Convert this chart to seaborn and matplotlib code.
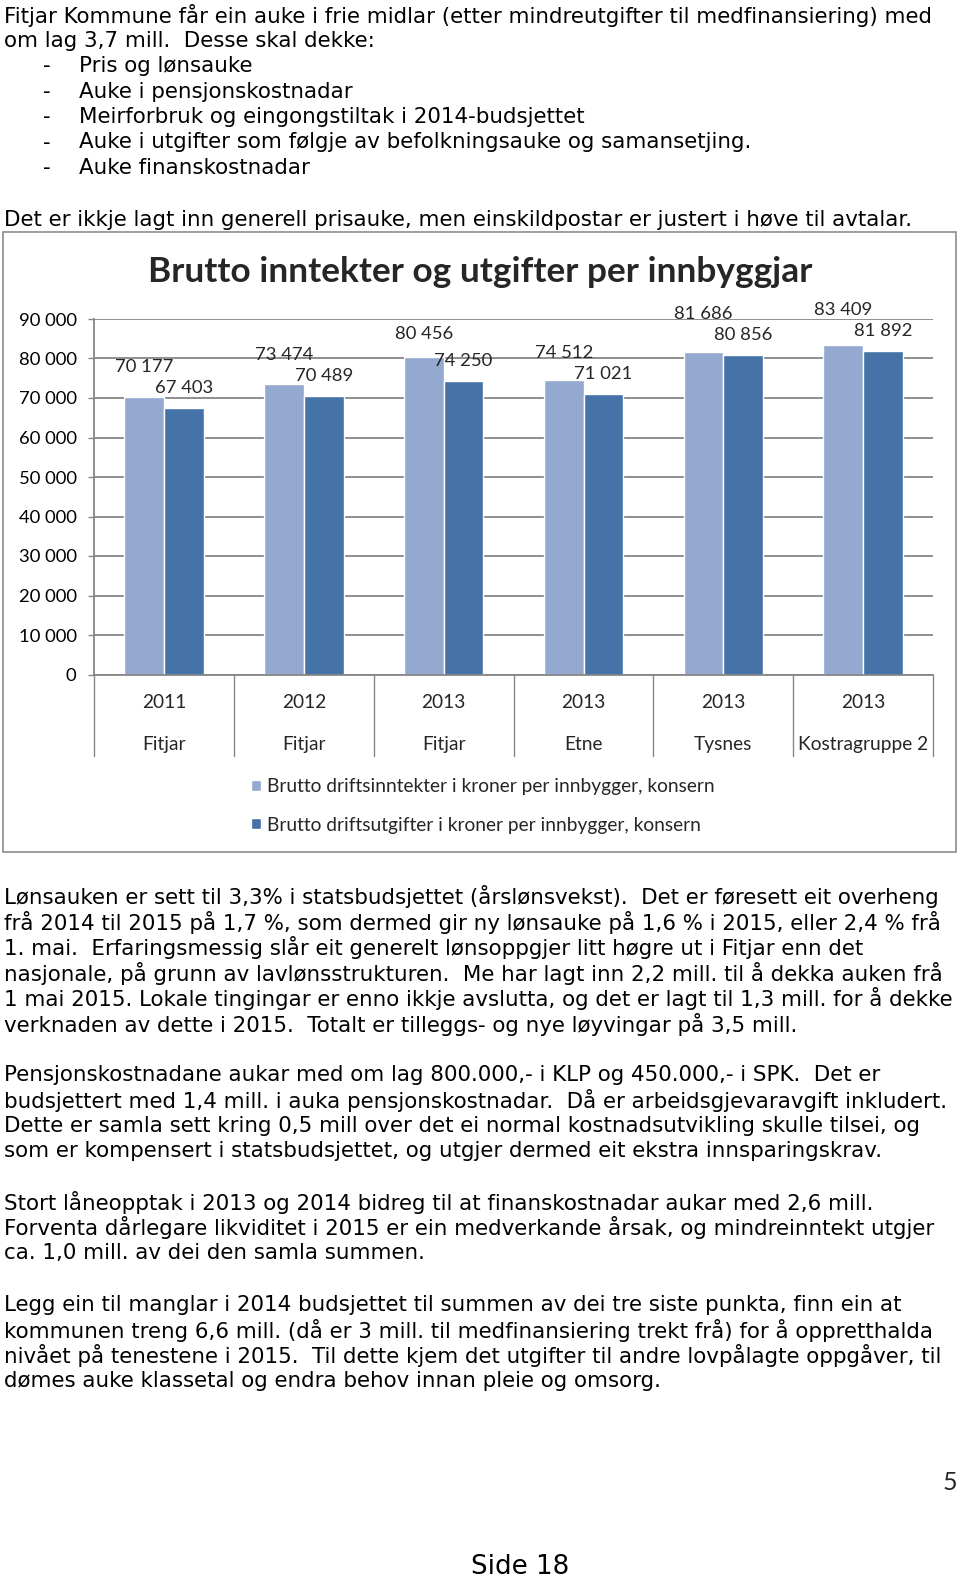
import matplotlib
matplotlib.use("Agg")
import matplotlib.pyplot as plt
import seaborn as sns
import pandas as pd
from matplotlib.patches import Rectangle
from matplotlib.lines import Line2D

# ---------------- data ----------------
years = ["2011", "2012", "2013", "2013", "2013", "2013"]
places = ["Fitjar", "Fitjar", "Fitjar", "Etne", "Tysnes", "Kostragruppe 2"]
series_names = ["Brutto driftsinntekter i kroner per innbygger, konsern",
                "Brutto driftsutgifter i kroner per innbygger, konsern"]
inntekter = [70177, 73474, 80456, 74512, 81686, 83409]
utgifter = [67403, 70489, 74250, 71021, 80856, 81892]
y_ticks = [0, 10000, 20000, 30000, 40000, 50000, 60000, 70000, 80000, 90000]
chart_title = "Brutto inntekter og utgifter per innbyggjar"

intro_lines = [
    "Fitjar Kommune får ein auke i frie midlar (etter mindreutgifter til medfinansiering) med",
    "om lag 3,7 mill.  Desse skal dekke:",
]
bullet_items = [
    "Pris og lønsauke",
    "Auke i pensjonskostnadar",
    "Meirforbruk og eingongstiltak i 2014-budsjettet",
    "Auke i utgifter som følgje av befolkningsauke og samansetjing.",
    "Auke finanskostnadar",
]
note_line = "Det er ikkje lagt inn generell prisauke, men einskildpostar er justert i høve til avtalar."
para_lon = [
    "Lønsauken er sett til 3,3% i statsbudsjettet (årslønsvekst).  Det er føresett eit overheng",
    "frå 2014 til 2015 på 1,7 %, som dermed gir ny lønsauke på 1,6 % i 2015, eller 2,4 % frå",
    "1. mai.  Erfaringsmessig slår eit generelt lønsoppgjer litt høgre ut i Fitjar enn det",
    "nasjonale, på grunn av lavlønsstrukturen.  Me har lagt inn 2,2 mill. til å dekka auken frå",
    "1 mai 2015. Lokale tingingar er enno ikkje avslutta, og det er lagt til 1,3 mill. for å dekke",
    "verknaden av dette i 2015.  Totalt er tilleggs- og nye løyvingar på 3,5 mill.",
]
para_pensjon = [
    "Pensjonskostnadane aukar med om lag 800.000,- i KLP og 450.000,- i SPK.  Det er",
    "budsjettert med 1,4 mill. i auka pensjonskostnadar.  Då er arbeidsgjevaravgift inkludert.",
    "Dette er samla sett kring 0,5 mill over det ei normal kostnadsutvikling skulle tilsei, og",
    "som er kompensert i statsbudsjettet, og utgjer dermed eit ekstra innsparingskrav.",
]
para_lan = [
    "Stort låneopptak i 2013 og 2014 bidreg til at finanskostnadar aukar med 2,6 mill.",
    "Forventa dårlegare likviditet i 2015 er ein medverkande årsak, og mindreinntekt utgjer",
    "ca. 1,0 mill. av dei den samla summen.",
]
para_sum = [
    "Legg ein til manglar i 2014 budsjettet til summen av dei tre siste punkta, finn ein at",
    "kommunen treng 6,6 mill. (då er 3 mill. til medfinansiering trekt frå) for å oppretthalda",
    "nivået på tenestene i 2015.  Til dette kjem det utgifter til andre lovpålagte oppgåver, til",
    "dømes auke klassetal og endra behov innan pleie og omsorg.",
]
page_number = "5"
footer = "Side 18"

# ---------------- style ----------------
W, H = 960, 1577
LIGHT = "#93A9CF"
DARK = "#4573A7"
GRID = "#868686"
BODY_FONT = "DejaVu Sans"
CHART_FONT = "Lato"
BODY_SIZE = 15.4
CHART_SIZE = 13.8
NUM_SIZE = 13.3
LINE_H = 25.4

sns.set_style("white")
plt.rcParams["font.family"] = [CHART_FONT, "DejaVu Sans"]

fig = plt.figure(figsize=(W / 100, H / 100), dpi=100)


def fx(x):
    return x / W


def fy(y):
    return 1 - y / H


def body(x, y, s, **kw):
    fig.text(fx(x), fy(y), s, family=BODY_FONT, fontsize=kw.pop("fontsize", BODY_SIZE),
             va="center", ha=kw.pop("ha", "left"), color="black", **kw)


# ---------------- page text ----------------
y = 15.5
for ln in intro_lines:
    body(4, y, ln)
    y += LINE_H
for item in bullet_items:
    body(43, y, "-")
    body(79, y, item)
    y += LINE_H
body(4, 219.5, note_line)

for start, para in [(897, para_lon), (1075, para_pensjon), (1202.5, para_lan), (1305, para_sum)]:
    for i, ln in enumerate(para):
        body(4, start + i * LINE_H, ln)

fig.text(fx(957), fy(1482), page_number, family=CHART_FONT, fontsize=18, ha="right", va="center")
body(520, 1567, footer, fontsize=18.8, ha="center")

# ---------------- chart frame ----------------
fig.patches.append(Rectangle((fx(3), fy(852)), fx(956) - fx(3), fy(232) - fy(852),
                             transform=fig.transFigure, fill=False, edgecolor="#8C8C8C",
                             lw=1.2, zorder=0))
fig.text(fx(480), fy(272), chart_title, family=CHART_FONT, fontsize=25.4, fontweight="bold",
         ha="center", va="center")

# ---------------- chart ----------------
left, right, top, bottom = 94.3, 933, 319, 674.5
ax = fig.add_axes([fx(left), fy(bottom), (right - left) / W, (bottom - top) / H])

keys = [f"{a} {b}" for a, b in zip(years, places)]
df = pd.DataFrame({
    "kategori": keys * 2,
    "serie": [series_names[0]] * len(keys) + [series_names[1]] * len(keys),
    "verdi": inntekter + utgifter,
})
sns.barplot(data=df, x="kategori", y="verdi", hue="serie", palette=[LIGHT, DARK],
            width=0.568, saturation=1, errorbar=None, ax=ax, zorder=2)

ax.set_xlim(-0.5, len(keys) - 0.5)
ax.set_ylim(0, 90000)
ax.set_yticks(y_ticks)
ax.set_yticklabels([f"{v:,}".replace(",", " ") for v in y_ticks])
ax.set_xticks([])
ax.set_xlabel("")
ax.set_ylabel("")
ax.yaxis.grid(True, color=GRID, lw=1.3)
ax.xaxis.grid(False)
ax.set_axisbelow(True)
for s in ["top", "right"]:
    ax.spines[s].set_visible(False)
for s in ["left", "bottom"]:
    ax.spines[s].set_color(GRID)
    ax.spines[s].set_linewidth(1.3)
ax.tick_params(axis="y", length=4.3, width=1.0, color=GRID, pad=8.5, labelsize=NUM_SIZE,
               labelcolor="black", left=True)
for t in ax.get_yticklabels():
    t.set_family(CHART_FONT)

# category axis labels and separators
ax_h_px = bottom - top
sep_len = (756 - bottom) / ax_h_px
for b in range(len(keys) + 1):
    ax.add_line(Line2D([b - 0.5, b - 0.5], [0, -sep_len], transform=ax.get_xaxis_transform(),
                       color=GRID, lw=1.0, clip_on=False))
for i, (yr, pl) in enumerate(zip(years, places)):
    ax.annotate(yr, xy=(i, 0), xycoords=("data", "axes fraction"), xytext=(0, -(703 - bottom)),
                textcoords="offset pixels", ha="center", va="center", fontsize=CHART_SIZE,
                family=CHART_FONT)
    ax.annotate(pl, xy=(i, 0), xycoords=("data", "axes fraction"), xytext=(0, -(744.5 - bottom)),
                textcoords="offset pixels", ha="center", va="center", fontsize=CHART_SIZE,
                family=CHART_FONT)

# data labels
ppu = ax_h_px / 90000.0
for bl, bd in zip(ax.containers[0], ax.containers[1]):
    vl, vd = bl.get_height(), bd.get_height()
    off_d = 20
    off_l = max(23, vd * ppu + off_d + 21 - vl * ppu)
    for bar, v, off in [(bl, vl, off_l), (bd, vd, off_d)]:
        ax.annotate(f"{int(round(v)):,}".replace(",", " "),
                    xy=(bar.get_x() + bar.get_width() / 2, v), xytext=(0, off),
                    textcoords="offset pixels", ha="center", va="center",
                    fontsize=NUM_SIZE, family=CHART_FONT, annotation_clip=False)

# legend
handles, labels = ax.get_legend_handles_labels()
if ax.get_legend() is not None:
    ax.get_legend().remove()
leg_cx = (483 - left) / (right - left)
leg_cy = (bottom - 806) / ax_h_px
ax.legend(handles, labels, loc="center", bbox_to_anchor=(leg_cx, leg_cy), frameon=False,
          ncol=1, handlelength=0.5, handleheight=0.5, handletextpad=0.35, labelspacing=1.1,
          borderaxespad=0, borderpad=0,
          prop={"family": CHART_FONT, "size": CHART_SIZE})

fig.savefig("out.png", dpi=100, facecolor="white")
